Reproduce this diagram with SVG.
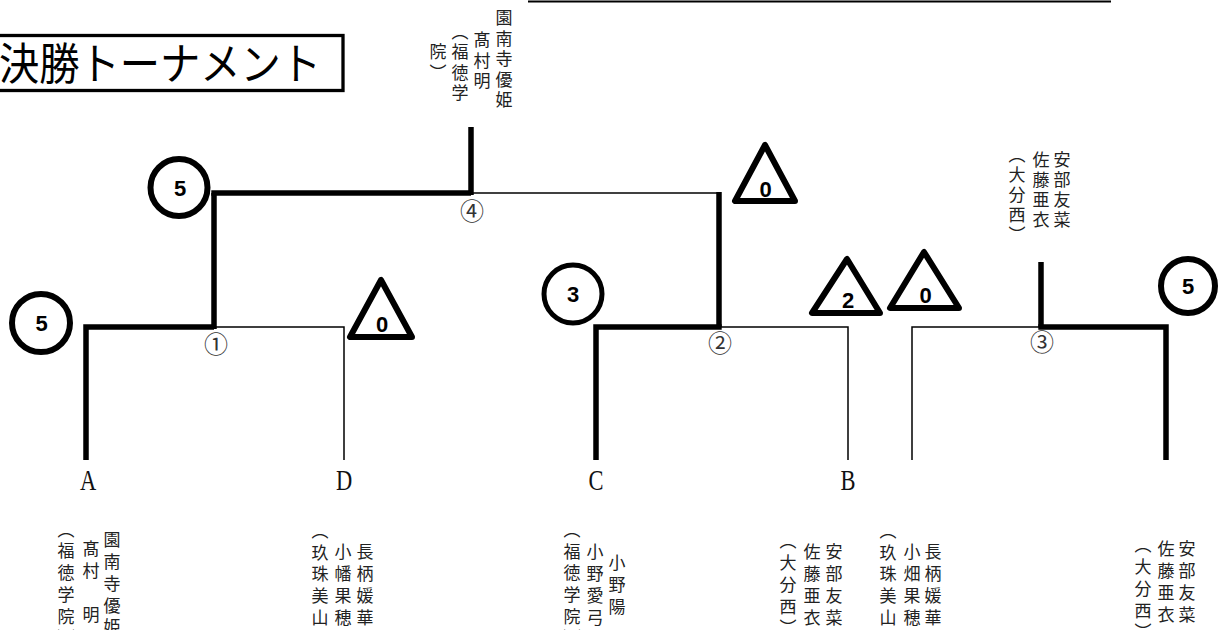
<svg xmlns="http://www.w3.org/2000/svg" width="1224" height="630" viewBox="0 0 1224 630">
<style>
.thick{fill:none;stroke:#000;stroke-width:5.5;stroke-linecap:butt;stroke-linejoin:miter}
.thin{fill:none;stroke:#000;stroke-width:1.5}
.ring{fill:#fff;stroke:#000;stroke-width:6}
.tri{fill:#fff;stroke:#000;stroke-width:6;stroke-linejoin:round}
.score{font-family:"Liberation Sans",Arial,sans-serif;font-weight:bold;font-size:22px;text-anchor:middle;fill:#000}
.num{font-family:"Noto Sans CJK JP",sans-serif;font-size:24px;text-anchor:middle;dominant-baseline:central;fill:#333}
.letter{font-family:"Liberation Serif",serif;font-size:30px;text-anchor:middle;fill:#111}
.vt{font-family:"Noto Sans CJK JP",sans-serif;font-size:17px;writing-mode:vertical-rl;fill:#222}
.vtop{letter-spacing:3.5px}
.vbot{letter-spacing:4.7px}
.title{font-family:"Noto Sans CJK JP",serif;font-size:44px;fill:#000}
</style>
<rect width="1224" height="630" fill="#fff"/>

<g id="top-rule"><path class="thin" d="M528,1.5 H1111" style="stroke-width:2"/></g>

<g id="title">
<rect x="-10" y="35.5" width="353" height="55" fill="#fff" stroke="#000" stroke-width="3.3"/>
<text class="title" x="-1" y="80" textLength="322" lengthAdjust="spacingAndGlyphs">決勝トーナメント</text>
</g>

<g id="connectors">
<path class="thick" d="M86,460 V327 H214"/>
<path class="thick" d="M214,329 V193"/>
<path class="thin" d="M214,327 H344 V460"/>
<path class="thick" d="M211.3,193 H471"/>
<path class="thick" d="M471,127 V195"/>
<path class="thin" d="M471,193 H719"/>
<path class="thick" d="M719,192 V327"/>
<path class="thick" d="M596,460 V327 H721.7"/>
<path class="thin" d="M719,327 H848 V460"/>
<path class="thin" d="M912,460 V327 H1041"/>
<path class="thick" d="M1041,262 V327"/>
<path class="thick" d="M1038.3,327 H1166 V460"/>
</g>

<g id="match-labels">
<text class="num" x="216" y="342">①</text>
<text class="num" x="720" y="341">②</text>
<text class="num" x="1042" y="340">③</text>
<text class="num" x="472" y="209">④</text>
</g>

<g id="score-a"><circle class="ring" cx="41" cy="323" r="29"/><text class="score" x="41.5" y="331">5</text></g>
<g id="score-f1"><circle class="ring" cx="179" cy="187.5" r="28.5"/><text class="score" x="180" y="196">5</text></g>
<g id="score-c"><circle class="ring" cx="573" cy="294" r="29" style="stroke-width:5"/><text class="score" x="573" y="302">3</text></g>
<g id="score-r"><circle class="ring" cx="1188" cy="286" r="27"/><text class="score" x="1188" y="294">5</text></g>

<g id="tri-d"><path class="tri" d="M381,280 L350,337 L412,337 Z"/><text class="score" x="382" y="332">0</text></g>
<g id="tri-f2"><path class="tri" d="M765,145 L735,201 L795,201 Z"/><text class="score" x="765.5" y="197">0</text></g>
<g id="tri-b"><path class="tri" d="M847,259 L812,313 L880,313 Z"/><text class="score" x="848" y="308">2</text></g>
<g id="tri-3"><path class="tri" d="M924,252 L890,308 L959,308 Z"/><text class="score" x="925.5" y="303">0</text></g>

<g id="letters">
<text class="letter" transform="translate(88,490) scale(0.75,1)">A</text>
<text class="letter" transform="translate(344,490) scale(0.75,1)">D</text>
<text class="letter" transform="translate(596,490) scale(0.75,1)">C</text>
<text class="letter" transform="translate(848,490) scale(0.75,1)">B</text>
</g>

<g id="name-top">
<text class="vt vtop" x="504" y="9.5">園南寺優姫</text>
<text class="vt vtop" x="482" y="31.5">髙村明</text>
<text class="vt vtop" x="460" y="23">（福徳学</text>
<text class="vt vtop" x="438" y="43.5">院）</text>
</g>

<g id="name-top-right">
<text class="vt" x="1062" y="151.5" style="letter-spacing:3px">安部友菜</text>
<text class="vt" x="1041" y="151.5" style="letter-spacing:3px">佐藤亜衣</text>
<text class="vt" x="1017" y="146.5" style="letter-spacing:3px">（大分西）</text>
</g>

<g id="name-a">
<text class="vt vbot" x="112" y="531.5">園南寺優姫</text>
<text class="vt vbot" x="91" y="540.5">髙村　明</text>
<text class="vt vbot" x="66" y="520.8">（福徳学院）</text>
</g>

<g id="name-d">
<text class="vt vbot" x="365" y="543.5">長柄媛華</text>
<text class="vt vbot" x="343" y="543.5">小幡果穂</text>
<text class="vt vbot" x="320" y="522">（玖珠美山）</text>
</g>

<g id="name-c">
<text class="vt vbot" x="617" y="554.5">小野陽</text>
<text class="vt vbot" x="595" y="543.5">小野愛弓</text>
<text class="vt vbot" x="572" y="521">（福徳学院）</text>
</g>

<g id="name-b">
<text class="vt vbot" x="834" y="543.5">安部友菜</text>
<text class="vt vbot" x="812" y="543.5">佐藤亜衣</text>
<text class="vt vbot" x="788" y="532.5">（大分西）</text>
</g>

<g id="name-3">
<text class="vt vbot" x="933" y="543.5">長柄媛華</text>
<text class="vt vbot" x="912" y="543.5">小畑果穂</text>
<text class="vt vbot" x="888" y="522">（玖珠美山）</text>
</g>

<g id="name-r">
<text class="vt vbot" x="1187" y="540.5">安部友菜</text>
<text class="vt vbot" x="1166" y="540.5">佐藤亜衣</text>
<text class="vt vbot" x="1143" y="536.5">（大分西）</text>
</g>
</svg>
